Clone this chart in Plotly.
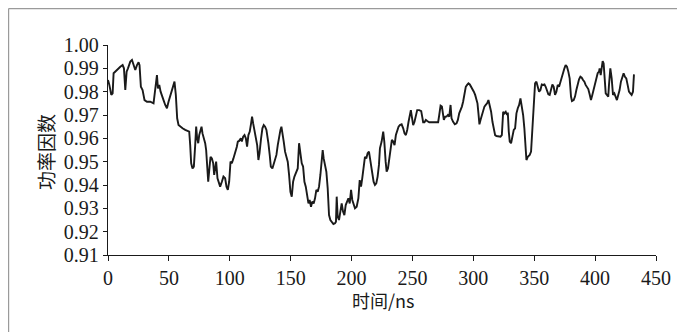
import plotly.graph_objects as go

time_ns = [
    0.0, 1.1, 2.7, 3.8, 4.6, 6.5, 8.2, 10.1, 12.0, 13.1, 14.2, 15.3, 16.4, 18.3, 19.7, 21.0, 22.4, 23.8,
    25.1, 25.9, 27.0, 28.4, 30.0, 32.0, 34.7, 37.4, 38.8, 40.2, 41.0, 42.1, 43.2, 44.3, 45.6, 47.0,
    48.4, 49.7, 51.1, 52.5, 53.8, 54.6, 55.7, 56.8, 57.9, 59.3, 61.2, 63.4, 65.6, 66.7, 67.5, 68.3,
    69.4, 70.5, 71.6, 72.4, 73.2, 74.1, 74.9, 75.7, 76.8, 77.6, 78.7, 79.8, 80.6, 81.4, 82.3, 83.4,
    84.2, 85.3, 86.4, 87.2, 88.0, 88.8, 89.9, 91.0, 92.1, 93.5, 94.8, 96.2, 97.3, 98.4, 99.5, 100.6,
    101.7, 103.0, 104.4, 105.8, 106.6, 107.7, 109.1, 109.9, 111.0, 112.1, 113.2, 114.2, 115.3, 116.4,
    117.5, 118.3, 119.2, 120.3, 121.4, 122.5, 123.5, 124.4, 125.7, 126.8, 127.9, 129.0, 130.1, 130.9,
    131.7, 132.8, 133.7, 135.0, 136.1, 137.2, 138.3, 139.4, 140.5, 141.6, 142.4, 143.2, 144.3, 145.4,
    146.5, 147.6, 148.7, 149.8, 150.9, 152.0, 153.1, 154.4, 155.8, 156.9, 158.0, 159.1, 160.2, 161.3,
    162.4, 163.5, 164.6, 165.6, 166.7, 167.8, 168.9, 170.0, 171.1, 172.2, 173.3, 174.4, 175.5, 176.3,
    177.1, 178.2, 179.3, 180.4, 181.5, 182.6, 183.7, 185.1, 186.4, 187.2, 187.8, 188.6, 189.7, 190.8,
    191.9, 193.0, 194.1, 195.2, 196.3, 197.4, 198.5, 199.6, 200.6, 201.7, 202.8, 204.2, 205.6, 206.7,
    207.8, 208.8, 209.9, 211.0, 212.1, 213.2, 214.3, 215.1, 216.0, 217.1, 218.1, 219.2, 220.3, 221.4,
    222.5, 223.3, 224.7, 226.0, 226.9, 228.0, 228.8, 229.9, 231.0, 232.1, 233.1, 234.2, 235.3, 236.4,
    237.5, 238.6, 239.7, 241.1, 242.4, 243.5, 244.6, 245.7, 246.8, 247.9, 248.7, 249.5, 250.6, 251.7,
    252.8, 253.9, 255.6, 257.2, 258.0, 258.8, 259.9, 261.0, 262.1, 263.8, 266.5, 269.8, 271.1, 272.0,
    273.1, 274.2, 275.0, 275.8, 276.9, 278.0, 279.1, 280.2, 281.3, 282.1, 283.4, 284.8, 286.2, 287.3,
    288.4, 289.5, 290.6, 291.6, 292.7, 293.8, 294.9, 296.0, 297.1, 298.2, 299.3, 300.4, 301.5, 302.6,
    303.4, 304.2, 305.0, 305.9, 307.0, 308.1, 309.1, 310.2, 311.3, 312.4, 313.5, 314.6, 315.7, 316.8,
    317.9, 319.0, 320.6, 322.3, 323.4, 323.9, 324.5, 325.5, 326.6, 327.7, 328.3, 329.1, 329.9, 331.0,
    332.1, 333.2, 334.3, 335.4, 336.5, 337.6, 338.7, 339.8, 340.9, 341.9, 343.0, 343.6, 344.7, 346.3,
    347.4, 348.5, 349.6, 350.7, 351.8, 352.9, 354.0, 355.1, 356.2, 357.3, 358.4, 359.4, 360.5, 361.6,
    362.7, 363.8, 364.9, 366.0, 367.1, 368.2, 369.3, 370.4, 371.5, 372.6, 373.7, 374.8, 375.8, 376.9,
    378.0, 379.1, 380.2, 381.0, 382.4, 383.5, 384.6, 385.7, 386.8, 387.9, 389.0, 390.1, 391.2, 392.2,
    393.3, 394.4, 395.5, 396.6, 397.7, 398.8, 399.9, 401.0, 402.1, 403.2, 403.7, 404.6, 405.4, 406.2,
    407.0, 407.8, 408.7, 409.7, 410.8, 411.4, 412.5, 413.6, 414.7, 415.8, 416.9, 417.9, 419.0, 420.1,
    421.2, 422.3, 423.4, 424.5, 425.6, 426.7, 427.8, 428.9, 430.0, 431.1, 431.9,
]

power_factor = [
    0.9850, 0.9829, 0.9786, 0.9793, 0.9879, 0.9889, 0.9900, 0.9907, 0.9914, 0.9900, 0.9807, 0.9886,
    0.9900, 0.9929, 0.9936, 0.9911, 0.9893, 0.9914, 0.9926, 0.9914, 0.9821, 0.9807, 0.9764, 0.9757,
    0.9757, 0.9750, 0.9800, 0.9871, 0.9814, 0.9829, 0.9800, 0.9779, 0.9764, 0.9743, 0.9729, 0.9757,
    0.9779, 0.9800, 0.9829, 0.9843, 0.9786, 0.9686, 0.9657, 0.9650, 0.9643, 0.9636, 0.9633, 0.9629,
    0.9571, 0.9493, 0.9471, 0.9479, 0.9571, 0.9650, 0.9600, 0.9579, 0.9614, 0.9629, 0.9650, 0.9621,
    0.9600, 0.9579, 0.9550, 0.9471, 0.9414, 0.9479, 0.9521, 0.9514, 0.9493, 0.9443, 0.9479, 0.9500,
    0.9429, 0.9407, 0.9393, 0.9414, 0.9436, 0.9429, 0.9393, 0.9379, 0.9414, 0.9500, 0.9493, 0.9514,
    0.9536, 0.9564, 0.9586, 0.9589, 0.9600, 0.9586, 0.9607, 0.9614, 0.9600, 0.9564, 0.9614, 0.9629,
    0.9664, 0.9693, 0.9664, 0.9629, 0.9600, 0.9571, 0.9507, 0.9536, 0.9600, 0.9643, 0.9657, 0.9650,
    0.9636, 0.9614, 0.9579, 0.9529, 0.9479, 0.9471, 0.9493, 0.9507, 0.9529, 0.9571, 0.9614, 0.9636,
    0.9650, 0.9629, 0.9586, 0.9543, 0.9514, 0.9500, 0.9443, 0.9371, 0.9350, 0.9414, 0.9436, 0.9450,
    0.9471, 0.9579, 0.9529, 0.9493, 0.9479, 0.9414, 0.9393, 0.9357, 0.9321, 0.9336, 0.9307, 0.9329,
    0.9321, 0.9343, 0.9379, 0.9371, 0.9393, 0.9443, 0.9514, 0.9550, 0.9514, 0.9486, 0.9457, 0.9386,
    0.9271, 0.9250, 0.9243, 0.9233, 0.9236, 0.9243, 0.9350, 0.9264, 0.9250, 0.9286, 0.9321, 0.9286,
    0.9271, 0.9314, 0.9329, 0.9343, 0.9321, 0.9379, 0.9336, 0.9314, 0.9300, 0.9307, 0.9343, 0.9421,
    0.9393, 0.9429, 0.9471, 0.9521, 0.9514, 0.9536, 0.9543, 0.9514, 0.9486, 0.9436, 0.9414, 0.9400,
    0.9407, 0.9436, 0.9486, 0.9557, 0.9586, 0.9629, 0.9586, 0.9500, 0.9457, 0.9471, 0.9514, 0.9557,
    0.9593, 0.9586, 0.9571, 0.9614, 0.9636, 0.9650, 0.9657, 0.9660, 0.9643, 0.9621, 0.9614, 0.9636,
    0.9671, 0.9700, 0.9721, 0.9693, 0.9657, 0.9671, 0.9693, 0.9721, 0.9721, 0.9717, 0.9693, 0.9669,
    0.9669, 0.9679, 0.9674, 0.9669, 0.9669, 0.9669, 0.9669, 0.9700, 0.9740, 0.9736, 0.9707, 0.9679,
    0.9693, 0.9693, 0.9700, 0.9693, 0.9743, 0.9686, 0.9671, 0.9660, 0.9664, 0.9679, 0.9707, 0.9721,
    0.9736, 0.9757, 0.9793, 0.9821, 0.9829, 0.9836, 0.9831, 0.9821, 0.9814, 0.9800, 0.9786, 0.9764,
    0.9750, 0.9707, 0.9660, 0.9679, 0.9700, 0.9721, 0.9736, 0.9743, 0.9750, 0.9764, 0.9743, 0.9714,
    0.9671, 0.9636, 0.9614, 0.9610, 0.9607, 0.9607, 0.9614, 0.9679, 0.9714, 0.9707, 0.9714, 0.9700,
    0.9711, 0.9629, 0.9586, 0.9579, 0.9614, 0.9636, 0.9643, 0.9707, 0.9729, 0.9743, 0.9771, 0.9743,
    0.9700, 0.9643, 0.9543, 0.9507, 0.9521, 0.9529, 0.9543, 0.9643, 0.9743, 0.9836, 0.9843, 0.9821,
    0.9800, 0.9807, 0.9831, 0.9829, 0.9831, 0.9821, 0.9800, 0.9789, 0.9786, 0.9814, 0.9831, 0.9821,
    0.9786, 0.9800, 0.9829, 0.9821, 0.9843, 0.9857, 0.9879, 0.9900, 0.9914, 0.9907, 0.9886, 0.9857,
    0.9779, 0.9760, 0.9764, 0.9779, 0.9807, 0.9836, 0.9853, 0.9864, 0.9860, 0.9850, 0.9843, 0.9829,
    0.9821, 0.9811, 0.9789, 0.9764, 0.9786, 0.9807, 0.9829, 0.9857, 0.9879, 0.9886, 0.9900, 0.9871,
    0.9907, 0.9931, 0.9921, 0.9857, 0.9793, 0.9786, 0.9779, 0.9829, 0.9900, 0.9857, 0.9786, 0.9793,
    0.9779, 0.9764, 0.9786, 0.9807, 0.9843, 0.9864, 0.9879, 0.9864, 0.9857, 0.9829, 0.9800, 0.9793,
    0.9786, 0.9800, 0.9874,
]

x_ticks = [0, 50, 100, 150, 200, 250, 300, 350, 400, 450]
y_ticks = [0.91, 0.92, 0.93, 0.94, 0.95, 0.96, 0.97, 0.98, 0.99, 1.00]
y_tick_labels = ["0.91", "0.92", "0.93", "0.94", "0.95", "0.96", "0.97", "0.98", "0.99", "1.00"]
x_title = "时间/ns"
y_title = "功率因数"

# the page body adds an 8px offset; the figure is sized/positioned to compensate
OFF = 8
W, H = 685 - OFF, 332 - OFF
ML, MR, MT, MB = 108 - OFF, 29, 45 - OFF, 77
pw = W - ML - MR
ph = H - MT - MB

def px_to_paper_x(page_px):
    return (page_px - OFF - ML) / pw

def px_to_paper_y(page_py):
    return (H - MB - (page_py - OFF)) / ph

ink = "#1a1a1a"
serif = '"Liberation Serif", "Times New Roman", Times, serif'
cjk = '"Noto Sans CJK SC", "Noto Sans CJK JP", sans-serif'

fig = go.Figure()
fig.add_trace(go.Scatter(
    x=time_ns, y=power_factor, mode="lines",
    line=dict(color=ink, width=1.9),
    showlegend=False, hoverinfo="skip",
))

fig.update_layout(
    width=W, height=H,
    margin=dict(l=ML, r=MR, t=MT, b=MB, pad=0, autoexpand=False),
    paper_bgcolor="white", plot_bgcolor="white",
    font=dict(family=serif, color=ink),
    xaxis=dict(
        range=[0, 450], tickmode="array", tickvals=x_ticks, automargin=False,
        showgrid=False, zeroline=False, showline=True, linecolor=ink, linewidth=1.3,
        ticks="outside", ticklen=5, tickwidth=1.2, tickcolor=ink,
        tickfont=dict(family=serif, size=20, color=ink),
    ),
    yaxis=dict(
        range=[0.91, 1.00], tickmode="array", tickvals=y_ticks, ticktext=y_tick_labels,
        automargin=False,
        showgrid=False, zeroline=False, showline=True, linecolor=ink, linewidth=1.3,
        ticks="outside", ticklen=4, tickwidth=1.2, tickcolor=ink,
        tickfont=dict(family=serif, size=20, color=ink),
    ),
)

fig.add_annotation(text=x_title, xref="paper", yref="paper",
                   x=px_to_paper_x(383), y=px_to_paper_y(300),
                   xanchor="center", yanchor="middle", showarrow=False,
                   font=dict(family=cjk, size=18, color=ink))
fig.add_annotation(text=y_title, xref="paper", yref="paper",
                   x=px_to_paper_x(45), y=px_to_paper_y(152), textangle=-90,
                   xanchor="center", yanchor="middle", showarrow=False,
                   font=dict(family=cjk, size=19, color=ink))

# light grey frame around the figure (left and top edges visible)
fig.add_shape(type="line", xref="paper", yref="paper",
              x0=px_to_paper_x(8.6), x1=px_to_paper_x(700), y0=px_to_paper_y(8.6), y1=px_to_paper_y(8.6),
              line=dict(color="#9a9a9a", width=1.2))
fig.add_shape(type="line", xref="paper", yref="paper",
              x0=px_to_paper_x(8.6), x1=px_to_paper_x(8.6), y0=px_to_paper_y(8.6), y1=px_to_paper_y(400),
              line=dict(color="#9a9a9a", width=1.2))

fig.write_html("out.html")
